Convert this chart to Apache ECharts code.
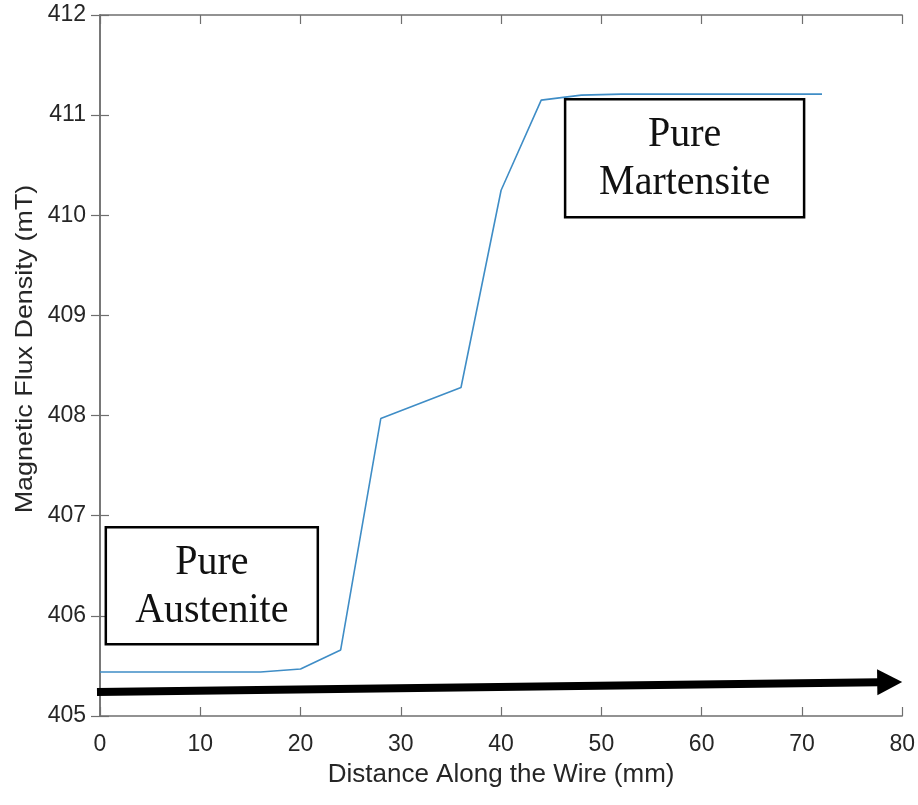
<!DOCTYPE html>
<html>
<head>
<meta charset="utf-8">
<script src="https://cdn.jsdelivr.net/npm/echarts@6/dist/echarts.min.js"></script>
<style>
  html, body { margin: 0; padding: 0; background: #ffffff; }
  #chart { width: 918px; height: 805px; }
</style>
</head>
<body>
<div id="chart"></div>
<script>
// Measured flux density along the wire
const distance = [0, 16, 20, 24, 28, 36, 40, 44, 48, 52, 72];
const fluxDensity = [405.44, 405.44, 405.47, 405.66, 407.97, 408.28, 410.25, 411.15, 411.20, 411.21, 411.21];

// Axis ranges
const xRange = [0, 80, 10];
const yRange = [405, 412, 1];

// Direction arrow (data coordinates: start, tip)
const arrowFrom = [-0.3, 405.24];
const arrowTo = [80, 405.34];

// Phase annotations, anchored at their centre in data coordinates
const phaseNotes = [
  { text: 'Pure\nAustenite', center: [11.15, 406.30], w: 212, h: 117 },
  { text: 'Pure\nMartensite', center: [58.3, 410.57], w: 239, h: 118 }
];

const axisColor = '#6f6f6f';
const labelColor = '#262626';
const sansFont = '"Liberation Sans", Arial, sans-serif';

const chart = echarts.init(document.getElementById('chart'), null, { renderer: 'canvas' });

const frameAxis = (extra) => Object.assign({
  axisLine: { show: true, lineStyle: { color: axisColor, width: 1.5 } },
  axisTick: { show: true, inside: true, length: 9, lineStyle: { color: axisColor, width: 1.2 } },
  splitLine: { show: false }
}, extra);

chart.setOption({
  animation: false,
  backgroundColor: '#ffffff',
  grid: { left: 100, right: 15, top: 15, bottom: 89, containLabel: false },
  xAxis: [
    frameAxis({
      type: 'value', position: 'bottom',
      min: xRange[0], max: xRange[1], interval: xRange[2],
      axisLabel: { color: labelColor, fontSize: 23, fontFamily: sansFont, margin: 17 },
      name: 'Distance Along the Wire (mm)',
      nameLocation: 'middle', nameGap: 46,
      nameTextStyle: { color: labelColor, fontSize: 26, fontFamily: sansFont }
    }),
    frameAxis({
      type: 'value', position: 'top',
      min: xRange[0], max: xRange[1], interval: xRange[2],
      axisLabel: { show: false }
    })
  ],
  yAxis: [
    frameAxis({
      type: 'value', position: 'left',
      min: yRange[0], max: yRange[1], interval: yRange[2],
      axisLabel: { color: labelColor, fontSize: 23, fontFamily: sansFont, margin: 14 }
    }),
    frameAxis({
      type: 'value', position: 'right',
      min: yRange[0], max: yRange[1], interval: yRange[2],
      axisLabel: { show: false }
    })
  ],
  series: [{
    type: 'line',
    xAxisIndex: 0, yAxisIndex: 0,
    data: distance.map((d, i) => [d, fluxDensity[i]]),
    showSymbol: false,
    lineStyle: { color: '#3f8dc6', width: 1.6 },
    z: 3
  }]
});

function drawAnnotations() {
  const toPx = (p) => chart.convertToPixel({ gridIndex: 0 }, p);
  const elements = [];

  // Arrow along the wire
  const a = toPx(arrowFrom);
  const b = toPx(arrowTo);
  const dx = b[0] - a[0], dy = b[1] - a[1];
  const len = Math.hypot(dx, dy);
  const ux = dx / len, uy = dy / len;
  const headLen = 25, headHalf = 13;
  const base = [b[0] - ux * headLen, b[1] - uy * headLen];
  elements.push({
    type: 'polyline',
    shape: { points: [a, [base[0] + ux * 2, base[1] + uy * 2]] },
    style: { stroke: '#000000', lineWidth: 8, fill: null },
    z: 10
  });
  elements.push({
    type: 'polygon',
    shape: {
      points: [
        b,
        [base[0] - uy * headHalf, base[1] + ux * headHalf],
        [base[0] + uy * headHalf, base[1] - ux * headHalf]
      ]
    },
    style: { fill: '#000000' },
    z: 10
  });

  // Phase boxes
  phaseNotes.forEach((n) => {
    const c = toPx(n.center);
    elements.push({
      type: 'rect',
      shape: { x: c[0] - n.w / 2, y: c[1] - n.h / 2, width: n.w, height: n.h },
      style: { fill: '#ffffff', stroke: '#000000', lineWidth: 2.5 },
      z: 11
    });
    elements.push({
      type: 'text',
      x: c[0], y: c[1] + 1,
      scaleY: 1.06,
      style: {
        text: n.text,
        fill: '#111111',
        fontSize: 40,
        fontFamily: '"Liberation Serif", "Times New Roman", serif',
        lineHeight: 45,
        align: 'center', verticalAlign: 'middle',
        textAlign: 'center', textVerticalAlign: 'middle'
      },
      z: 12
    });
  });

  // Vertical axis title
  elements.push({
    type: 'text',
    x: 25, y: 349,
    rotation: Math.PI / 2,
    scaleX: 1.12,
    style: {
      text: 'Magnetic Flux Density (mT)',
      fill: labelColor,
      fontSize: 24,
      fontFamily: sansFont,
      align: 'center', verticalAlign: 'middle',
      textAlign: 'center', textVerticalAlign: 'middle'
    },
    z: 12
  });

  chart.setOption({ graphic: { elements: elements } });
}

drawAnnotations();
</script>
</body>
</html>
